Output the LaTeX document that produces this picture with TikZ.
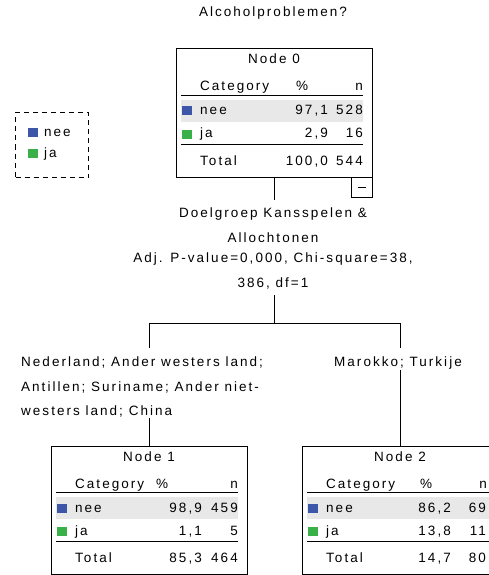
\documentclass[tikz,border=0pt]{standalone}
\usepackage{fontspec}
\newfontfamily\spss[LetterSpace=15]{Liberation Sans}
\newcommand\spssfont{\spss\fontsize{13.5}{24.5}\selectfont}
\definecolor{catblue}{RGB}{62,86,168}
\definecolor{catgreen}{RGB}{58,176,72}
\definecolor{bandgrey}{RGB}{232,232,232}
\tikzset{
  txt/.style={inner sep=0pt, text height=9pt, text depth=3pt, font=\spssfont},
  mtxt/.style={inner sep=0pt, font=\spssfont},
  tbox/.style={draw, line width=1pt, minimum width=196pt, minimum height=128pt, anchor=north west, inner sep=0pt, outer sep=0pt},
  band/.style={fill=bandgrey, draw=none, minimum width=182pt, minimum height=22pt, inner sep=0pt},
  rule/.style={line width=1pt},
  sq/.style={draw=none, minimum width=10pt, minimum height=9pt, inner sep=0pt},
  conn/.style={line width=1pt},
  togbox/.style={draw, line width=1pt, minimum width=21pt, minimum height=20pt, inner sep=0pt},
  legbox/.style={draw, line width=1pt, dash pattern=on 5pt off 4pt, minimum width=73pt, minimum height=65pt, anchor=north west, inner sep=0pt}
}
\newcommand\spsshead[6]{%
  \def\pctR{#4}\def\nR{#5}%
  \node[tbox] (#1) at (0,0) {};
  \node[band] (#1band) at (96,62) {};
  \node[txt] (#1title) at (98,12) {#2};
  \node[txt,anchor=west] (#1cat) at (24,39) {Category};
  \node[txt] (#1pct) at (#3,39) {\%};
  \node[txt,anchor=east] (#1n) at (#6,39) {n};
  \draw[rule] (5,46.5) -- (187,46.5);
  \draw[rule] (5,95) -- (187,95);
  \node[sq,fill=catblue] (#1sqa) at (11,62) {};
  \node[sq,fill=catgreen] (#1sqb) at (11,85) {};
  \node[txt,anchor=west] (#1a) at (24,63) {nee};
  \node[txt,anchor=west] (#1b) at (24,86) {ja};
  \node[txt,anchor=west] (#1t) at (24,113) {Total};
}
\newcommand\spssrows[7]{%
  \node[txt,anchor=east] (#1ap) at (\pctR,63) {#2};
  \node[txt,anchor=east] (#1an) at (\nR,63) {#3};
  \node[txt,anchor=east] (#1bp) at (\pctR,86) {#4};
  \node[txt,anchor=east] (#1bn) at (\nR,86) {#5};
  \node[txt,anchor=east] (#1tp) at (\pctR,113) {#6};
  \node[txt,anchor=east] (#1tn) at (\nR,113) {#7};
}
\begin{document}
\begin{tikzpicture}[x=1pt,y=-1pt]
\useasboundingbox (0,0) rectangle (489,575);
\clip (0,0) rectangle (489,575);

% title
\node[txt] (title) at (273,14) {Alcoholproblemen?};

% legend
\node[legbox] (legend) at (15,112) {};
\node[sq,fill=catblue] (legblue) at (32.5,132) {};
\node[sq,fill=catgreen] (leggreen) at (32.5,153) {};
\node[txt,anchor=west] (legnee) at (44,133) {nee};
\node[txt,anchor=west] (legja) at (44,154) {ja};

% node 0
\begin{scope}[shift={(176,49)}]
  \spsshead{n0}{Node 0}{126}{152}{187}{187}
  \spssrows{n0}{97,1}{528}{2,9}{16}{100,0}{544}
\end{scope}
\node[togbox] (n0tog) at (361.5,187) {};
\draw[rule] ([xshift=7pt]n0tog.west) -- ([xshift=-7pt]n0tog.east);

% split label
\node[mtxt,align=center,anchor=north] (split) at (273,208)
  {Doelgroep Kansspelen \&\\Allochtonen\\[-4pt]Adj. P-value=0,000, Chi-square=38,\\386, df=1};

% node 1 and node 2
\begin{scope}[shift={(51,446)}]
  \spsshead{n1}{Node 1}{111}{151}{187}{187}
  \spssrows{n1}{98,9}{459}{1,1}{5}{85,3}{464}
\end{scope}
\begin{scope}[shift={(302,446)}]
  \spsshead{n2}{Node 2}{124}{149}{184}{185}
  \spssrows{n2}{86,2}{69}{13,8}{11}{14,7}{80}
\end{scope}

% branch labels
\node[mtxt,align=left,anchor=north west] (lbl1) at (21,357)
  {Nederland; Ander westers land;\\Antillen; Suriname; Ander niet-\\westers land; China};
\node[txt] (lbl2) at (398,363) {Marokko; Turkije};

% connectors
\coordinate (splittop) at (n0.south |- 0,200);
\coordinate (splitbot) at (n0.south |- 0,295);
\coordinate (fork) at (n0.south |- 0,323);
\coordinate (forkL) at (n1.north |- fork);
\coordinate (forkR) at (n2.north |- fork);
\coordinate (lbl1top) at (n1.north |- 0,348);
\coordinate (lbl1bot) at (n1.north |- 0,418);
\coordinate (lbl2top) at (n2.north |- 0,348);
\coordinate (lbl2bot) at (n2.north |- 0,370);
\draw[conn] (n0.south) -- (splittop);
\draw[conn] (splitbot) -- (fork);
\draw[conn] (forkL) -- (forkR);
\draw[conn] (forkL) -- (lbl1top);
\draw[conn] (lbl1bot) -- (n1.north);
\draw[conn] (forkR) -- (lbl2top);
\draw[conn] (lbl2bot) -- (n2.north);
\end{tikzpicture}
\end{document}
